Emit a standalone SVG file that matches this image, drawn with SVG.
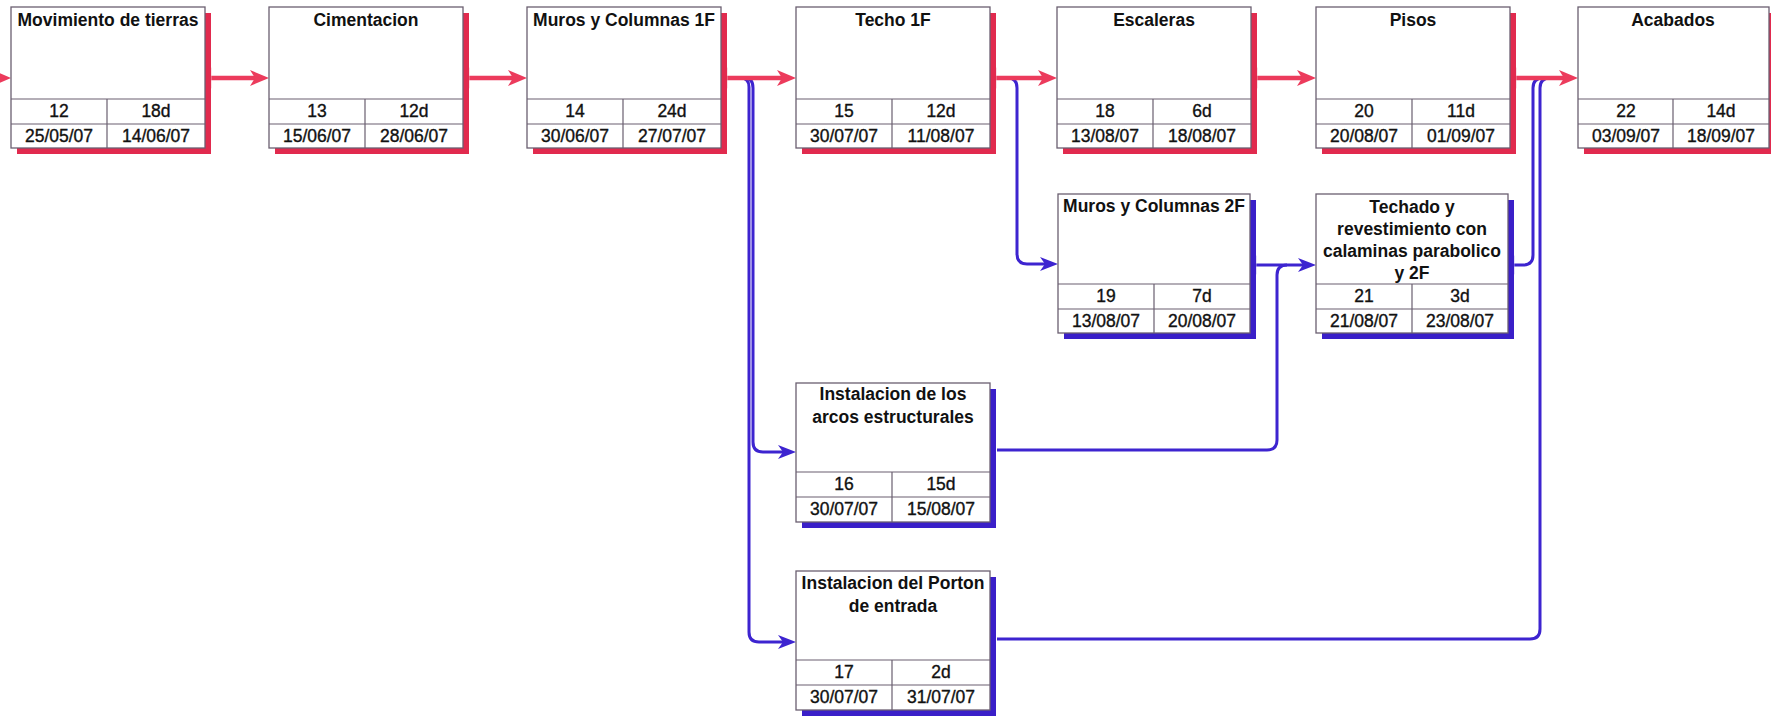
<svg xmlns="http://www.w3.org/2000/svg" xmlns:xlink="http://www.w3.org/1999/xlink" width="1771" height="716" viewBox="0 0 1771 716">
<style>
.bg{fill:#fff}
.box{fill:#fff;stroke:#6a5f70;stroke-width:1.3}
.sr{fill:#e12a4e}
.sb{fill:#3a1fc8}
.ln{fill:none;stroke:#6a5f70;stroke-width:1.2}
.t{font-family:"Liberation Sans",Arial,sans-serif;font-size:17.5px;font-weight:bold;text-anchor:middle;fill:#111}
.c{font-family:"Liberation Sans",Arial,sans-serif;font-size:17.5px;text-anchor:middle;fill:#111;stroke:#111;stroke-width:0.35}
.cr{fill:none;stroke:#ec3b5c;stroke-width:4.5}
.cb{fill:none;stroke:#3d24d0;stroke-width:3}
.ar{fill:#ec3b5c}
.ab{fill:#3d24d0}
.tr{fill:#ec3b5c;stroke:#f3b6c2;stroke-width:0.8}
.tb{fill:#3d24d0;stroke:#b8b0f0;stroke-width:0.8}
</style>
<defs>
<path id="ah" d="M0,0 L-19,-8 L-14,0 L-19,8 Z"/>
<path id="ahb" d="M0,0 L-18,-7 L-13,0 L-18,7 Z"/>
</defs>
<rect class="bg" x="0" y="0" width="1771" height="716"/>

<g id="connectors">
  <path class="cb" d="M741,78 Q749,78 749,87 V632 Q749,642 759,642 H785"/>
  <path class="cb" d="M745,78 Q753,78 753,88 V442 Q753,452 763,452 H785"/>
  <path class="cb" d="M1008,78 Q1017,78 1017,88 V254 Q1017,264 1027,264 H1047"/>
  <path class="cb" d="M1254,265 H1305"/>
  <path class="cb" d="M997,450 H1267 Q1277,450 1277,440 V275 Q1277,265 1287,265"/>
  <path class="cb" d="M1512,265 H1523 Q1533,265 1533,255 V88 Q1533,78 1543,78"/>
  <path class="cb" d="M997,639 H1530 Q1540,639 1540,629 V88 Q1540,78 1550,78"/>
  <rect class="tb" x="1252" y="256" width="4" height="18"/>
  <rect class="tb" x="1510" y="256" width="4" height="18"/>
  <use xlink:href="#ahb" href="#ahb" class="ab" x="796" y="642"/>
  <use xlink:href="#ahb" href="#ahb" class="ab" x="796" y="452"/>
  <use xlink:href="#ahb" href="#ahb" class="ab" x="1058" y="264"/>
  <use xlink:href="#ahb" href="#ahb" class="ab" x="1316" y="265"/>
  <path class="cr" d="M-20,78 H0"/>
  <path class="cr" d="M209,78 H256"/>
  <path class="cr" d="M467,78 H514"/>
  <path class="cr" d="M725,78 H783"/>
  <path class="cr" d="M994,78 H1044"/>
  <path class="cr" d="M1255,78 H1303"/>
  <path class="cr" d="M1514,78 H1565"/>
  <rect class="tr" x="207" y="68" width="4" height="20"/>
  <rect class="tr" x="465" y="68" width="4" height="20"/>
  <rect class="tr" x="723" y="68" width="4" height="20"/>
  <rect class="tr" x="992" y="68" width="4" height="20"/>
  <rect class="tr" x="1253" y="68" width="4" height="20"/>
  <rect class="tr" x="1512" y="68" width="4" height="20"/>
  <use xlink:href="#ah" href="#ah" class="ar" x="11" y="78"/>
  <use xlink:href="#ah" href="#ah" class="ar" x="269" y="78"/>
  <use xlink:href="#ah" href="#ah" class="ar" x="527" y="78"/>
  <use xlink:href="#ah" href="#ah" class="ar" x="796" y="78"/>
  <use xlink:href="#ah" href="#ah" class="ar" x="1057" y="78"/>
  <use xlink:href="#ah" href="#ah" class="ar" x="1316" y="78"/>
  <use xlink:href="#ah" href="#ah" class="ar" x="1578" y="78"/>
</g>

<g id="task12">
  <rect class="sr" x="17" y="13" width="194" height="141"/>
  <rect class="box" x="11" y="7" width="194" height="141"/>
  <path class="ln" d="M11,99H205M11,124H205M107,99V148"/>
  <text class="t" x="108" y="26">Movimiento de tierras</text>
  <text class="c" x="59" y="117">12</text><text class="c" x="156" y="117">18d</text>
  <text class="c" x="59" y="142">25/05/07</text><text class="c" x="156" y="142">14/06/07</text>
</g>
<g id="task13">
  <rect class="sr" x="275" y="13" width="194" height="141"/>
  <rect class="box" x="269" y="7" width="194" height="141"/>
  <path class="ln" d="M269,99H463M269,124H463M365,99V148"/>
  <text class="t" x="366" y="26">Cimentacion</text>
  <text class="c" x="317" y="117">13</text><text class="c" x="414" y="117">12d</text>
  <text class="c" x="317" y="142">15/06/07</text><text class="c" x="414" y="142">28/06/07</text>
</g>
<g id="task14">
  <rect class="sr" x="533" y="13" width="194" height="141"/>
  <rect class="box" x="527" y="7" width="194" height="141"/>
  <path class="ln" d="M527,99H721M527,124H721M623,99V148"/>
  <text class="t" x="624" y="26">Muros y Columnas 1F</text>
  <text class="c" x="575" y="117">14</text><text class="c" x="672" y="117">24d</text>
  <text class="c" x="575" y="142">30/06/07</text><text class="c" x="672" y="142">27/07/07</text>
</g>
<g id="task15">
  <rect class="sr" x="802" y="13" width="194" height="141"/>
  <rect class="box" x="796" y="7" width="194" height="141"/>
  <path class="ln" d="M796,99H990M796,124H990M892,99V148"/>
  <text class="t" x="893" y="26">Techo 1F</text>
  <text class="c" x="844" y="117">15</text><text class="c" x="941" y="117">12d</text>
  <text class="c" x="844" y="142">30/07/07</text><text class="c" x="941" y="142">11/08/07</text>
</g>
<g id="task18">
  <rect class="sr" x="1063" y="13" width="194" height="141"/>
  <rect class="box" x="1057" y="7" width="194" height="141"/>
  <path class="ln" d="M1057,99H1251M1057,124H1251M1153,99V148"/>
  <text class="t" x="1154" y="26">Escaleras</text>
  <text class="c" x="1105" y="117">18</text><text class="c" x="1202" y="117">6d</text>
  <text class="c" x="1105" y="142">13/08/07</text><text class="c" x="1202" y="142">18/08/07</text>
</g>
<g id="task20">
  <rect class="sr" x="1322" y="13" width="194" height="141"/>
  <rect class="box" x="1316" y="7" width="194" height="141"/>
  <path class="ln" d="M1316,99H1510M1316,124H1510M1412,99V148"/>
  <text class="t" x="1413" y="26">Pisos</text>
  <text class="c" x="1364" y="117">20</text><text class="c" x="1461" y="117">11d</text>
  <text class="c" x="1364" y="142">20/08/07</text><text class="c" x="1461" y="142">01/09/07</text>
</g>
<g id="task22">
  <rect class="sr" x="1584" y="13" width="191" height="141"/>
  <rect class="box" x="1578" y="7" width="191" height="141"/>
  <path class="ln" d="M1578,99H1769M1578,124H1769M1673,99V148"/>
  <text class="t" x="1673" y="26">Acabados</text>
  <text class="c" x="1626" y="117">22</text><text class="c" x="1721" y="117">14d</text>
  <text class="c" x="1626" y="142">03/09/07</text><text class="c" x="1721" y="142">18/09/07</text>
</g>
<g id="task19">
  <rect class="sb" x="1064" y="200" width="192" height="139"/>
  <rect class="box" x="1058" y="194" width="192" height="139"/>
  <path class="ln" d="M1058,284H1250M1058,309H1250M1154,284V333"/>
  <text class="t" x="1154" y="212">Muros y Columnas 2F</text>
  <text class="c" x="1106" y="302">19</text><text class="c" x="1202" y="302">7d</text>
  <text class="c" x="1106" y="327">13/08/07</text><text class="c" x="1202" y="327">20/08/07</text>
</g>
<g id="task21">
  <rect class="sb" x="1322" y="200" width="192" height="139"/>
  <rect class="box" x="1316" y="194" width="192" height="139"/>
  <path class="ln" d="M1316,284H1508M1316,309H1508M1412,284V333"/>
  <text class="t" x="1412" y="213">Techado y</text>
  <text class="t" x="1412" y="235">revestimiento con</text>
  <text class="t" x="1412" y="257">calaminas parabolico</text>
  <text class="t" x="1412" y="279">y 2F</text>
  <text class="c" x="1364" y="302">21</text><text class="c" x="1460" y="302">3d</text>
  <text class="c" x="1364" y="327">21/08/07</text><text class="c" x="1460" y="327">23/08/07</text>
</g>
<g id="task16">
  <rect class="sb" x="802" y="389" width="194" height="139"/>
  <rect class="box" x="796" y="383" width="194" height="139"/>
  <path class="ln" d="M796,472H990M796,497H990M892,472V522"/>
  <text class="t" x="893" y="400">Instalacion de los</text>
  <text class="t" x="893" y="423">arcos estructurales</text>
  <text class="c" x="844" y="490">16</text><text class="c" x="941" y="490">15d</text>
  <text class="c" x="844" y="515">30/07/07</text><text class="c" x="941" y="515">15/08/07</text>
</g>
<g id="task17">
  <rect class="sb" x="802" y="577" width="194" height="139"/>
  <rect class="box" x="796" y="571" width="194" height="139"/>
  <path class="ln" d="M796,660H990M796,685H990M892,660V710"/>
  <text class="t" x="893" y="589">Instalacion del Porton</text>
  <text class="t" x="893" y="612">de entrada</text>
  <text class="c" x="844" y="678">17</text><text class="c" x="941" y="678">2d</text>
  <text class="c" x="844" y="703">30/07/07</text><text class="c" x="941" y="703">31/07/07</text>
</g>
</svg>
